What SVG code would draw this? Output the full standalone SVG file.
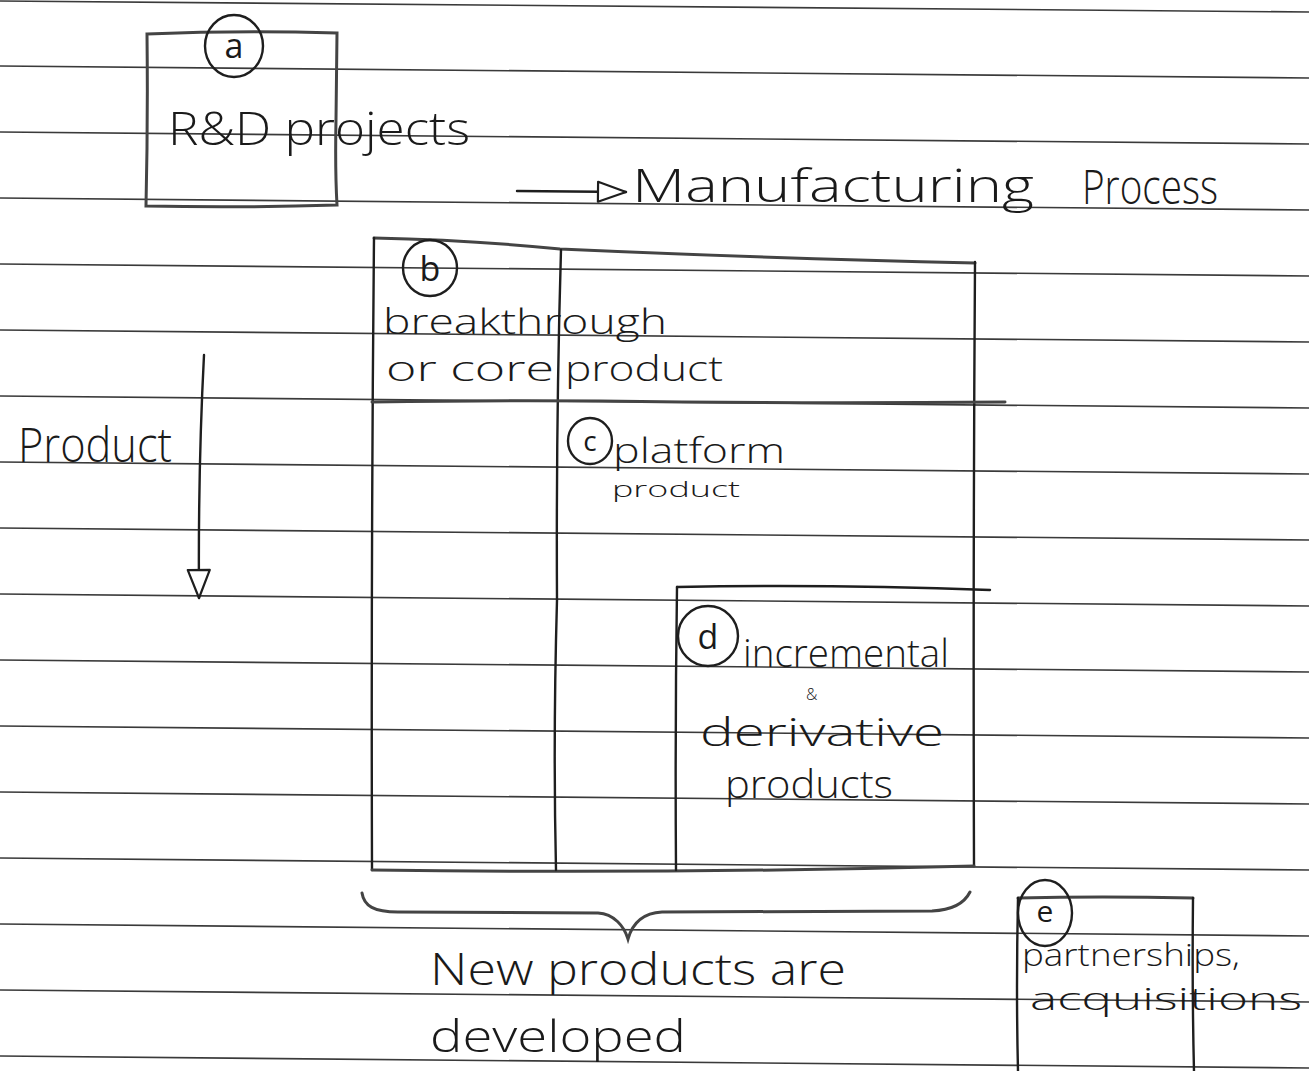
<svg xmlns="http://www.w3.org/2000/svg" width="1309" height="1071" viewBox="0 0 1309 1071">
  <style>
    .rule { stroke: #3a3a3a; stroke-width: 1.6; fill: none; }
    .ink { stroke: #1e1e1e; stroke-width: 2.4; fill: none; stroke-linecap: round; stroke-linejoin: round; }
    .soft { stroke: #444; stroke-width: 3; fill: none; stroke-linecap: round; }
    .hand { font-family: "Open Sans", "Liberation Sans", sans-serif; font-weight: 300; fill: #1a1a1a; }
    .tag { font-family: "Open Sans", "Liberation Sans", sans-serif; font-weight: 400; fill: #1a1a1a; text-anchor: middle; }
  </style>
  <defs>
    <!-- open triangular arrowheads, drawn like a pen outline -->
    <marker id="headRight" markerUnits="userSpaceOnUse" markerWidth="34" markerHeight="26" refX="30" refY="13" orient="auto">
      <path d="M2 3 L30 13 L2 23 Z" fill="#fff" stroke="#1e1e1e" stroke-width="2.2" stroke-linejoin="round"/>
    </marker>
    <marker id="headDown" markerUnits="userSpaceOnUse" markerWidth="34" markerHeight="28" refX="30" refY="13" orient="auto">
      <path d="M2 2 L30 13 L2 24 Z" fill="#fff" stroke="#1e1e1e" stroke-width="2.2" stroke-linejoin="round"/>
    </marker>
  </defs>

  <rect width="1309" height="1071" fill="#ffffff"/>

  <!-- ruled notebook lines -->
  <g id="paper">
    <line class="rule" x1="0" y1="1" x2="1309" y2="12"/>
    <line class="rule" x1="0" y1="66" x2="1309" y2="78"/>
    <line class="rule" x1="0" y1="132" x2="1309" y2="144"/>
    <line class="rule" x1="0" y1="198" x2="1309" y2="210"/>
    <line class="rule" x1="0" y1="264" x2="1309" y2="276"/>
    <line class="rule" x1="0" y1="330" x2="1309" y2="342"/>
    <line class="rule" x1="0" y1="396" x2="1309" y2="408"/>
    <line class="rule" x1="0" y1="462" x2="1309" y2="474"/>
    <line class="rule" x1="0" y1="528" x2="1309" y2="540"/>
    <line class="rule" x1="0" y1="594" x2="1309" y2="606"/>
    <line class="rule" x1="0" y1="660" x2="1309" y2="672"/>
    <line class="rule" x1="0" y1="726" x2="1309" y2="738"/>
    <line class="rule" x1="0" y1="792" x2="1309" y2="804"/>
    <line class="rule" x1="0" y1="858" x2="1309" y2="870"/>
    <line class="rule" x1="0" y1="924" x2="1309" y2="936"/>
    <line class="rule" x1="0" y1="990" x2="1309" y2="1002"/>
    <line class="rule" x1="0" y1="1056" x2="1309" y2="1068"/>
  </g>

  <!-- (a) R&D projects -->
  <g id="node-a">
    <path class="soft" d="M147 34 Q240 30 337 33 L336 120 Q335 170 337 205 Q240 208 146 206 Q148 120 147 34 Z"/>
    <ellipse class="ink" cx="234" cy="46" rx="29" ry="31"/>
    <text class="tag" x="234" y="58" font-size="34">a</text>
    <text class="hand" x="168" y="145" font-size="46" textLength="302" lengthAdjust="spacingAndGlyphs">R&amp;D projects</text>
  </g>

  <!-- process axis label -->
  <g id="label-manufacturing">
    <text class="hand" x="632" y="202" font-size="46" textLength="402" lengthAdjust="spacingAndGlyphs">Manufacturing</text>
    <text class="hand" x="1082" y="204" font-size="48" textLength="136" lengthAdjust="spacingAndGlyphs">Process</text>
  </g>

  <!-- product axis label -->
  <g id="label-product">
    <text class="hand" x="18" y="462" font-size="48" textLength="154" lengthAdjust="spacingAndGlyphs">Product</text>
  </g>

  <!-- (b) breakthrough or core product: outer frame with dividers -->
  <g id="node-b">
    <path class="soft" d="M374 238 Q470 240 560 249 Q760 258 975 263"/>
    <path class="ink" d="M374 238 Q371 550 372 870"/>
    <path class="ink" d="M975 262 Q973 560 974 866"/>
    <path class="soft" d="M372 870 Q670 874 974 866"/>
    <path class="ink" d="M561 250 Q556 420 557 600 Q553 740 556 870"/>
    <path class="soft" d="M372 402 Q500 400 600 401 Q800 404 1005 402"/>
    <ellipse class="ink" cx="430" cy="268" rx="27" ry="28"/>
    <text class="tag" x="430" y="281" font-size="34">b</text>
    <text class="hand" x="383" y="334" font-size="34" textLength="284" lengthAdjust="spacingAndGlyphs">breakthrough</text>
    <text class="hand" x="386" y="381" font-size="34" textLength="168" lengthAdjust="spacingAndGlyphs">or core</text>
    <text class="hand" x="565" y="381" font-size="34" textLength="158" lengthAdjust="spacingAndGlyphs">product</text>
  </g>

  <!-- (c) platform product -->
  <g id="node-c">
    <ellipse class="ink" cx="590" cy="441" rx="22" ry="23"/>
    <text class="tag" x="590" y="451" font-size="28">c</text>
    <text class="hand" x="613" y="463" font-size="34" textLength="172" lengthAdjust="spacingAndGlyphs">platform</text>
    <text class="hand" x="612" y="497" font-size="22" textLength="128" lengthAdjust="spacingAndGlyphs">product</text>
  </g>

  <!-- (d) incremental & derivative products -->
  <g id="node-d">
    <path class="ink" d="M677 587 Q830 584 990 590"/>
    <path class="ink" d="M677 587 Q675 730 676 870"/>
    <ellipse class="ink" cx="708" cy="636" rx="30" ry="30"/>
    <text class="tag" x="708" y="649" font-size="34">d</text>
    <text class="hand" x="743" y="667" font-size="38" textLength="206" lengthAdjust="spacingAndGlyphs">incremental</text>
    <text class="hand" x="806" y="700" font-size="16">&amp;</text>
    <text class="hand" x="700" y="746" font-size="38" textLength="244" lengthAdjust="spacingAndGlyphs">derivative</text>
    <text class="hand" x="725" y="798" font-size="38" textLength="168" lengthAdjust="spacingAndGlyphs">products</text>
  </g>

  <!-- (e) partnerships, acquisitions -->
  <g id="node-e">
    <path class="soft" d="M1018 898 Q1100 896 1193 898"/>
    <path class="ink" d="M1018 898 Q1016 990 1018 1071"/>
    <path class="ink" d="M1193 898 Q1192 990 1194 1071"/>
    <ellipse class="ink" cx="1045" cy="913" rx="27" ry="33"/>
    <text class="tag" x="1045" y="922" font-size="30">e</text>
    <text class="hand" x="1022" y="966" font-size="32" textLength="218" lengthAdjust="spacingAndGlyphs">partnerships,</text>
    <text class="hand" x="1030" y="1010" font-size="32" textLength="272" lengthAdjust="spacingAndGlyphs">acquisitions</text>
  </g>

  <!-- brace grouping b, c and d -->
  <g id="brace">
    <path class="soft" d="M362 893 C364 906 374 912 398 912 L598 913 C614 914 624 926 628 939 C632 925 642 913 662 912 L932 911 C954 910 965 902 970 892"/>
    <text class="hand" x="430" y="985" font-size="44" textLength="416" lengthAdjust="spacingAndGlyphs">New products are</text>
    <text class="hand" x="430" y="1052" font-size="44" textLength="256" lengthAdjust="spacingAndGlyphs">developed</text>
  </g>

  <!-- axis arrows -->
  <g id="connectors">
    <path class="ink" d="M517 191 L626 192" marker-end="url(#headRight)"/>
    <path class="ink" d="M204 355 Q198 470 199 598" marker-end="url(#headDown)"/>
  </g>
</svg>
